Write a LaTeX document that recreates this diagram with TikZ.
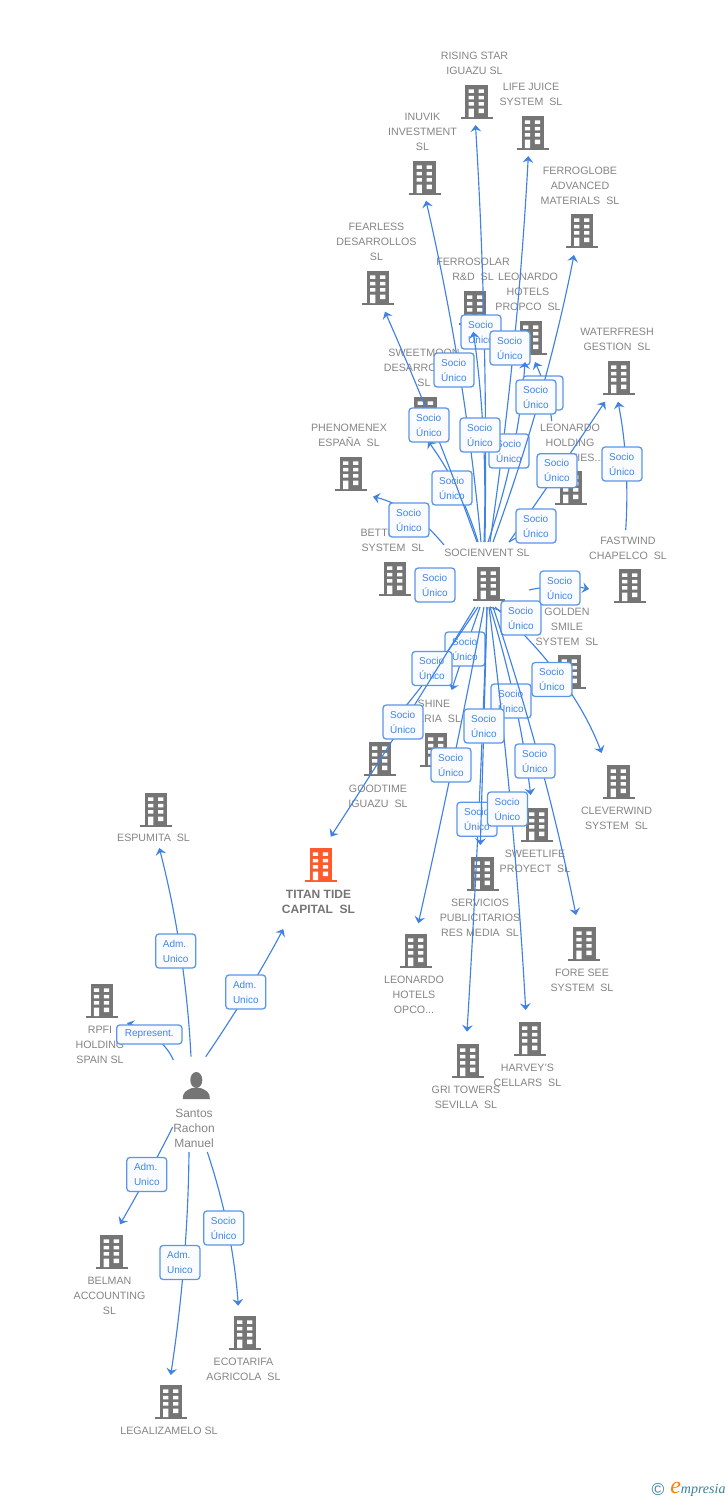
\documentclass[tikz,border=0pt]{standalone}
\usepackage{fontspec}
\setmainfont{Liberation Sans}
\usetikzlibrary{arrows.meta,calc}
\definecolor{bldg}{HTML}{757575}
\definecolor{hot}{HTML}{FF5A2B}
\definecolor{lbltxt}{HTML}{858585}
\definecolor{linkc}{HTML}{3F82E4}
\definecolor{tagc}{HTML}{5A96EA}
\definecolor{tagt}{HTML}{3F86E8}
\definecolor{tagf}{HTML}{FAFBFE}
\definecolor{logob}{HTML}{3D7D9C}
\tikzset{
 lbl/.style={text=lbltxt,font=\fontsize{8}{11.25}\selectfont,align=center,inner sep=0pt},
 lblb/.style={text=bldg,font=\bfseries\fontsize{9}{11.25}\selectfont,align=center,inner sep=0pt},
 lblp/.style={text=lbltxt,font=\fontsize{9}{11.25}\selectfont,align=center,inner sep=0pt},
 tagbase/.style={inner sep=0pt,minimum width=30pt,minimum height=25.5pt},
 tag/.style={tagbase,draw=tagc,fill=tagf,line width=0.95pt,rounded corners=2.4pt,text=tagt,
   font=\fontsize{7.5}{11.25}\selectfont,align=left},
 lnkline/.style={draw=linkc,line width=0.85pt,-{Stealth[length=5pt,width=8pt,inset=1.8pt]}},
 anchorbox/.style={inner sep=0pt,minimum width=24pt,minimum height=25.5pt}
}
% name, centre x, top y, colour
\newcommand\bld[4]{%
 \node[anchorbox] (#1) at (#2,#3+17) {};
 \begin{scope}[shift={(#2,#3)},fill=#4]
  \fill (-11.3,0) rectangle (11.3,32);
  \fill (-16,31.6) rectangle (16,34);
  \fill[white] (-8,4.3) rectangle (-2.6,7.8) (2,4.3) rectangle (7.4,7.8)
    (-8,10.8) rectangle (-2.6,14.3) (2,10.8) rectangle (7.4,14.3)
    (-8,17.2) rectangle (-2.6,20.7) (2,17.2) rectangle (7.4,20.7)
    (-8,23.6) rectangle (-2.6,32) (2,23.6) rectangle (7.4,28);
 \end{scope}}
% name, source end, tag centre, target end, control offset from tag, tag text
\newcommand\lnk[6]{%
 \coordinate (#1-s) at (#2);
 \coordinate (#1-e) at (#4);
 \node[tagbase] (#1) at (#3) {};
 \coordinate (#1-c) at ($(#1.center)+(#5)$);
 \draw[lnkline] (#1-s) .. controls ($(#1-s)!0.667!(#1-c)$) and ($(#1-e)!0.667!(#1-c)$) .. (#1-e);
 \node[tag] (#1-t) at (#1) {#6};}
\newcommand\SU{Socio\\Único}
\newcommand\AU{Adm.\\Unico}
\begin{document}
\begin{tikzpicture}[x=0.75pt,y=-0.75pt]
\useasboundingbox (0,0) rectangle (728,1500);
\fill[white] (0,0) rectangle (728,1500);
% buildings
\bld{rising}{476.5}{85}{bldg}
\bld{life}{532.8}{116}{bldg}
\bld{inuvik}{424.5}{161}{bldg}
\bld{ferroglobe}{582}{214}{bldg}
\bld{fearless}{378}{271}{bldg}
\bld{ferrosolar}{475}{291}{bldg}
\bld{propco}{531}{321}{bldg}
\bld{water}{619}{361}{bldg}
\bld{sweetmoon}{425.7}{397}{bldg}
\bld{pheno}{351}{457}{bldg}
\bld{holding}{571}{471}{bldg}
\bld{bett}{395}{562}{bldg}
\bld{soc}{488.5}{567}{bldg}
\bld{fastwind}{630}{569}{bldg}
\bld{golden}{569.5}{655}{bldg}
\bld{goodtime}{380}{742}{bldg}
\bld{shine}{436}{733}{bldg}
\bld{clever}{618.5}{765}{bldg}
\bld{sweetlife}{537}{808}{bldg}
\bld{servicios}{482.5}{857}{bldg}
\bld{titan}{320.8}{848}{hot}
\bld{foresee}{584.3}{927}{bldg}
\bld{opco}{416}{934}{bldg}
\bld{harvey}{530}{1022}{bldg}
\bld{gri}{468}{1044}{bldg}
\bld{espumita}{156}{793}{bldg}
\bld{rpfi}{101.8}{984}{bldg}
\bld{belman}{111.7}{1235}{bldg}
\bld{ecot}{245}{1316}{bldg}
\bld{legal}{171}{1385}{bldg}
% person
\node[anchorbox,minimum width=20pt] (santos) at (196.3,1085.5) {};
\fill[bldg] (196.3,1080) ellipse (6 and 8);
\fill[bldg] (182.8,1099) .. controls (182.8,1092) and (186,1090.5) .. (192,1088)
  -- (200.6,1088) .. controls (206.6,1090.5) and (209.8,1092) .. (209.8,1099) -- cycle;
% labels
\node[lbl] (rising-l) at (474.5,63.5) {RISING STAR\\IGUAZU SL};
\node[lbl] (life-l) at (531,94.5) {LIFE JUICE\\SYSTEM~~SL};
\node[lbl] (inuvik-l) at (422.5,132) {INUVIK\\INVESTMENT\\SL};
\node[lbl] (ferroglobe-l) at (580,186) {FERROGLOBE\\ADVANCED\\MATERIALS~~SL};
\node[lbl] (fearless-l) at (376.5,242) {FEARLESS\\DESARROLLOS\\SL};
\node[lbl] (ferrosolar-l) at (473,269.5) {FERROSOLAR\\R\&D~~SL};
\node[lbl] (propco-l) at (528,292) {LEONARDO\\HOTELS\\PROPCO~~SL};
\node[lbl] (water-l) at (617,339.5) {WATERFRESH\\GESTION~~SL};
\node[lbl] (sweetmoon-l) at (424,368) {SWEETMOON\\DESARROLLOS\\SL};
\node[lbl] (pheno-l) at (349,435.5) {PHENOMENEX\\ESPAÑA~~SL};
\node[lbl] (holding-l) at (570,443) {LEONARDO\\HOLDING\\ACTIVITIES...};
\node[lbl] (bett-l) at (393,540.5) {BETTERWAY\\SYSTEM~~SL};
\node[lbl] (soc-l) at (487,553) {SOCIENVENT SL};
\node[lbl] (fastwind-l) at (628,548.5) {FASTWIND\\CHAPELCO~~SL};
\node[lbl] (golden-l) at (567,627) {GOLDEN\\SMILE\\SYSTEM~~SL};
\node[lbl] (shine-l) at (434,711.5) {SHINE\\IBERIA~~SL};
\node[lbl] (goodtime-l) at (378,796.5) {GOODTIME\\IGUAZU~~SL};
\node[lbl] (clever-l) at (616.5,818.5) {CLEVERWIND\\SYSTEM~~SL};
\node[lbl] (sweetlife-l) at (535,861.5) {SWEETLIFE\\PROYECT~~SL};
\node[lbl] (servicios-l) at (480,918) {SERVICIOS\\PUBLICITARIOS\\RES MEDIA~~SL};
\node[lblb] (titan-l) at (318.5,901.5) {TITAN TIDE\\CAPITAL~~SL};
\node[lbl] (foresee-l) at (582,980.5) {FORE SEE\\SYSTEM~~SL};
\node[lbl] (opco-l) at (414,995) {LEONARDO\\HOTELS\\OPCO...};
\node[lbl] (harvey-l) at (527.5,1075.5) {HARVEY'S\\CELLARS~~SL};
\node[lbl] (gri-l) at (466,1097.5) {GRI TOWERS\\SEVILLA~~SL};
\node[lbl] (espumita-l) at (153.5,838) {ESPUMITA~~SL};
\node[lbl] (rpfi-l) at (100,1045) {RPFI\\HOLDING\\SPAIN SL};
\node[lblp] (santos-l) at (194,1128) {Santos\\Rachon\\Manuel};
\node[lbl] (belman-l) at (109.5,1296) {BELMAN\\ACCOUNTING\\SL};
\node[lbl] (ecot-l) at (243.5,1369.5) {ECOTARIFA\\AGRICOLA~~SL};
\node[lbl] (legal-l) at (169,1431) {LEGALIZAMELO SL};
% upper fan
\lnk{t-sweet}{478,542}{452,488}{428,441}{10,0}{\SU}
\lnk{t-rising}{485,542}{481,332}{475.5,125}{7,0}{\SU}
\lnk{t-life}{490,542}{510,348}{528.3,156}{8,0}{\SU}
\lnk{t-propco}{488,542}{509,451}{525,362}{10,0}{\SU}
\lnk{t-holdprop}{551.7,421}{543,393}{535,362}{6,0}{\SU}
\lnk{t-inuvik}{481,542}{454,370}{426,200.7}{11,0}{\SU}
\lnk{t-fearless}{477,542}{429,425}{385,311.7}{6,0}{\SU}
\lnk{t-ferrosolar}{484,542}{480,435}{473.3,331.7}{8,0}{\SU}
\lnk{t-ferroglobe}{493,542}{536,397}{574,255}{10,0}{\SU}
\lnk{t-water}{509,542}{557,470.7}{605,401.7}{2,0}{\SU}
\lnk{t-holding}{509,542}{536,526}{548,519}{0,0}{\SU}
\lnk{t-fastwater}{625.7,530}{622,464}{618,401.7}{8,0}{\SU}
\lnk{t-pheno}{444,545}{409,520}{373,496.7}{3,-14}{\SU}
\node[tag] (t-bett) at (435,585) {\SU};
% lower fan
\lnk{t-clever}{495,607}{552,679.5}{601.7,753}{20,-4}{\SU}
\lnk{t-golden}{490,607}{521,618}{538,625}{0,0}{\SU}
\lnk{t-fast}{529,590}{560,588}{589,589}{0,-5}{\SU}
\lnk{t-shine}{480,607}{465,649}{451.7,690}{0,0}{\SU}
\lnk{t-good}{478,607}{432,668.5}{386,730}{6,0}{\SU}
\lnk{t-titan}{475,607}{403,722}{330.7,836.7}{2,0}{\SU}
\lnk{t-sweetl}{490,607}{511,701}{530.7,795}{8,0}{\SU}
\lnk{t-fore}{493,607}{535,761}{576,915}{10,0}{\SU}
\lnk{t-opco}{484,607}{451,765}{418.3,923.3}{3,0}{\SU}
\lnk{t-gri}{487,607}{477,819.3}{467,1031.7}{3,0}{\SU}
\lnk{t-harvey}{489,607}{507.5,809}{525.7,1010}{7,0}{\SU}
\lnk{t-serv}{487,607}{484,726}{480.3,845}{0,0}{\SU}
% Santos
\lnk{t-esp}{191,1056.7}{175.7,951}{159.3,848}{10,0}{\AU}
\lnk{t-tit}{205.7,1056.7}{245.8,992}{283.3,929}{4,0}{\AU}
\coordinate (t-rep-s) at (173.3,1060);
\coordinate (t-rep-e) at (127,1023);
\node[tagbase,minimum width=49pt,minimum height=14.25pt] (t-rep) at (149.3,1034.5) {};
\coordinate (t-rep-c) at ($(t-rep.center)+(14,2)$);
\draw[lnkline] (t-rep-s) .. controls ($(t-rep-s)!0.667!(t-rep-c)$) and ($(t-rep-e)!0.667!(t-rep-c)$) .. (t-rep-e);
\node[tag,minimum width=49pt,minimum height=14.25pt,align=center] (t-rep-t) at (t-rep) {Represent.};
\lnk{t-bel}{172.7,1127}{146.8,1174.5}{120,1224.3}{2,0}{\AU}
\lnk{t-leg}{189,1152}{179.9,1262.5}{170.7,1375}{8,0}{\AU}
\lnk{t-eco}{207.3,1152}{223.7,1228}{238.3,1305.7}{9,0}{\SU}
% logo
\node[inner sep=0pt,text=logob,font=\fontsize{13}{13}\selectfont] (logo-c) at (658,1489) {©};
\node[inner sep=0pt,anchor=west,font=\fontsize{10.5}{12}\selectfont] (logo-t) at (670,1489.5)
  {\fontspec{Liberation Serif}\itshape{\color{orange}\fontsize{18}{18}\selectfont e}{\color{logob}mpresia}};
\end{tikzpicture}
\end{document}
